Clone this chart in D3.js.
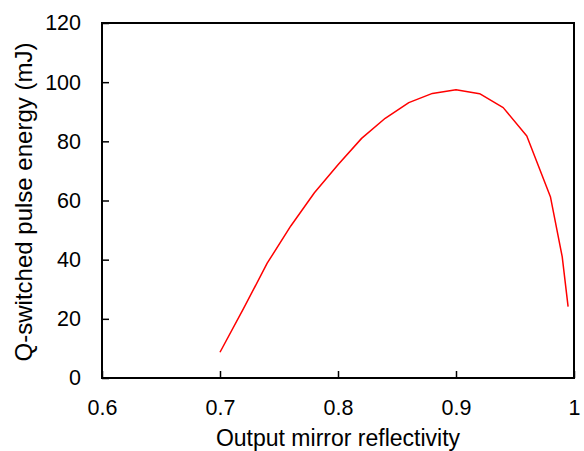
<!DOCTYPE html>
<html>
<head>
<meta charset="utf-8">
<script src="https://cdn.jsdelivr.net/npm/d3@7"></script>
<style>
  body { margin: 0; background: #fff; }
  text { font-family: "Liberation Sans", Arial, sans-serif; fill: #000; }
</style>
</head>
<body>
<svg class="chart"></svg>
<script>
// reflectivity vs Q-switched pulse energy (mJ)
const reflectivity = [0.70, 0.72, 0.74, 0.76, 0.78, 0.80, 0.82, 0.84, 0.86, 0.88, 0.90, 0.92, 0.94, 0.96, 0.98, 0.99, 0.995];
const energy = [8.7, 23.5, 38.8, 51.4, 62.6, 72.1, 81.0, 87.8, 93.1, 96.2, 97.4, 96.1, 91.4, 81.8, 61.3, 41.0, 24.1];
const xTicks = [0.6, 0.7, 0.8, 0.9, 1];
const yTicks = [0, 20, 40, 60, 80, 100, 120];

const width = 584;
const height = 451;
const margin = {top: 23, right: 10, bottom: 73, left: 102};

const svg = d3.select('.chart')
  .attr('width', width)
  .attr('height', height);

const x = d3.scaleLinear()
  .domain([0.6, 1])
  .range([margin.left, width - margin.right]);

const y = d3.scaleLinear()
  .domain([0, 120])
  .range([height - margin.bottom, margin.top]);

const data = reflectivity.map((r, i) => ({r, e: energy[i]}));

// frame
svg.append('rect')
  .attr('x', x(0.6))
  .attr('y', y(120))
  .attr('width', x(1) - x(0.6))
  .attr('height', y(0) - y(120))
  .attr('fill', 'none')
  .attr('stroke', '#000')
  .attr('stroke-width', 2);

const xAxis = svg.append('g')
  .attr('transform', `translate(0,${y(0)})`)
  .call(d3.axisBottom(x).tickValues(xTicks).tickFormat(d => d).tickSizeInner(-7).tickSizeOuter(0).tickPadding(22));

const yAxis = svg.append('g')
  .attr('transform', `translate(${x(0.6)},0)`)
  .call(d3.axisLeft(y).tickValues(yTicks).tickSizeInner(-7).tickSizeOuter(0).tickPadding(21));

[xAxis, yAxis].forEach(g => {
  g.select('.domain').remove();
  g.selectAll('.tick line').attr('stroke', '#000').attr('stroke-width', 1.5);
  g.selectAll('.tick text')
    .attr('font-size', 21.5)
    .attr('font-family', '"Liberation Sans", Arial, sans-serif');
});

const line = d3.line()
  .x(d => x(d.r))
  .y(d => y(d.e));

svg.append('path')
  .datum(data)
  .attr('fill', 'none')
  .attr('stroke', '#ff0000')
  .attr('stroke-width', 1.5)
  .attr('stroke-linejoin', 'round')
  .attr('d', line);

svg.append('text')
  .attr('x', (x(0.6) + x(1)) / 2)
  .attr('y', 446)
  .attr('text-anchor', 'middle')
  .attr('font-size', 23)
  .text('Output mirror reflectivity');

svg.append('text')
  .attr('transform', `translate(32,202) rotate(-90)`)
  .attr('text-anchor', 'middle')
  .attr('font-size', 24)
  .text('Q-switched pulse energy (mJ)');
</script>
</body>
</html>
